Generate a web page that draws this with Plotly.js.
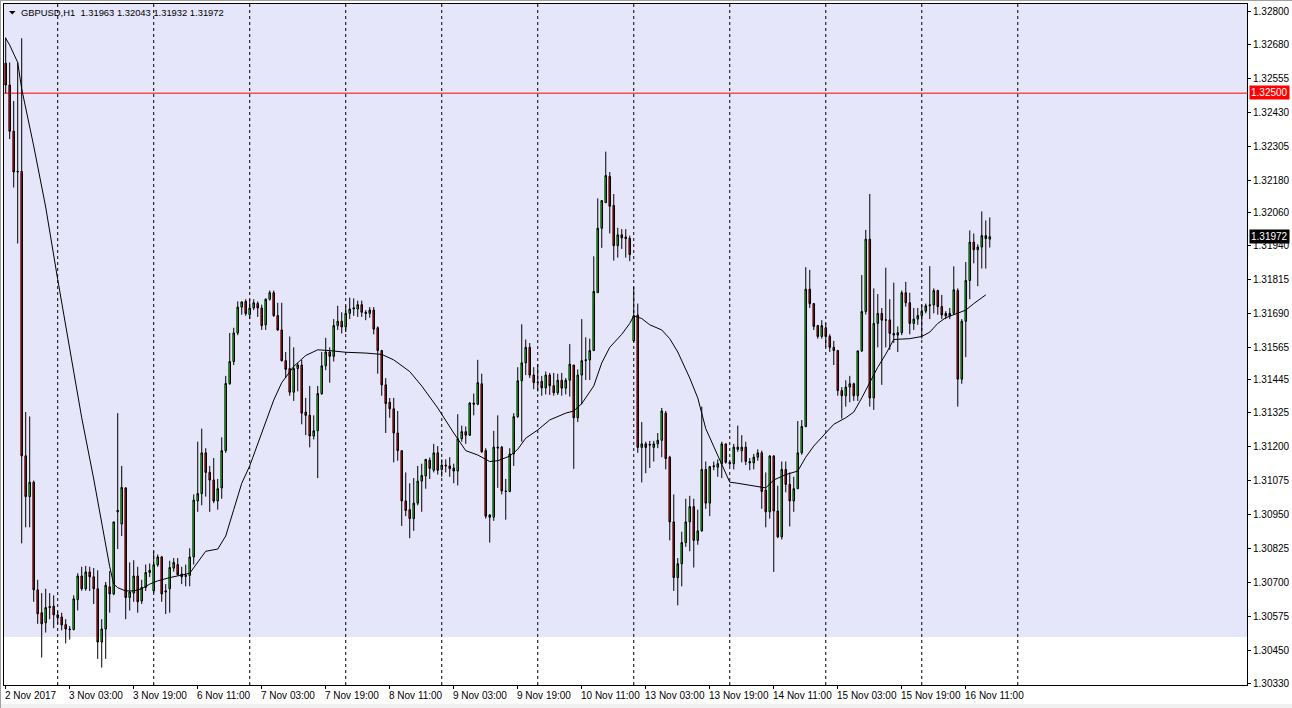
<!DOCTYPE html>
<html>
<head>
<meta charset="utf-8">
<script src="https://cdn.plot.ly/plotly-3.0.1.min.js"></script>
<style>
  html, body { margin: 0; padding: 0; background: #ffffff; }
  #chart { width: 1292px; height: 708px; }
</style>
</head>
<body>
<div id="chart"></div>
<script>
// ---------------- DATA ----------------
const symbol = "GBPUSD,H1";

const open = [
1.32610,1.32530,1.32360,1.32210,1.32212,1.31166,1.31016,1.31069,1.30673,1.30589,
1.30552,1.30608,1.30613,1.30581,1.30573,1.30545,1.30529,1.30527,1.30637,1.30724,
1.30677,1.30739,1.30721,1.30677,1.30481,1.30529,1.30684,1.30658,1.30960,1.30915,
1.31048,1.30645,1.30661,1.30724,1.30632,1.30682,1.30737,1.30669,1.30765,1.30794,
1.30665,1.30677,1.30753,1.30766,1.30731,1.30722,1.30726,1.30794,1.31000,1.31027,
1.31177,1.31105,1.31077,1.31000,1.31048,1.31185,1.31432,1.31513,1.31618,1.31713,
1.31734,1.31685,1.31710,1.31726,1.31710,1.31648,1.31742,1.31766,1.31682,1.31629,
1.31516,1.31487,1.31400,1.31487,1.31500,1.31327,1.31315,1.31239,1.31258,1.31395,
1.31497,1.31548,1.31532,1.31645,1.31661,1.31640,1.31690,1.31706,1.31706,1.31722,
1.31694,1.31690,1.31702,1.31637,1.31553,1.31427,1.31363,1.31339,1.31250,1.31185,
1.31000,1.30968,1.30935,1.30992,1.31073,1.31092,1.31150,1.31113,1.31177,1.31116,
1.31132,1.31129,1.31121,1.31110,1.31229,1.31255,1.31242,1.31360,1.31356,1.31431,
1.31185,1.30948,1.30940,1.31198,1.31198,1.31037,1.31035,1.31173,1.31310,1.31442,
1.31508,1.31565,1.31463,1.31435,1.31440,1.31416,1.31463,1.31424,1.31398,1.31444,
1.31415,1.31444,1.31500,1.31306,1.31463,1.31516,1.31519,1.31553,1.31766,1.32003,
1.32097,1.32194,1.32087,1.31939,1.31979,1.31971,1.31966,1.31589,1.31684,1.31197,
1.31210,1.31205,1.31197,1.31210,1.31223,1.31323,1.31161,1.30923,1.30718,1.30769,
1.30847,1.30923,1.30979,1.30855,1.30890,1.31116,1.30992,1.31126,1.31124,1.31137,
1.31210,1.31142,1.31137,1.31190,1.31185,1.31198,1.31145,1.31140,1.31161,1.31177,
1.31040,1.30960,1.31165,1.30963,1.30868,1.31116,1.31061,1.31000,1.31045,1.31177,
1.31274,1.31779,1.31726,1.31645,1.31605,1.31637,1.31605,1.31565,1.31553,1.31406,
1.31387,1.31419,1.31431,1.31387,1.31552,1.31697,1.31963,1.31379,1.31653,1.31690,
1.31665,1.31666,1.31616,1.31610,1.31619,1.31766,1.31729,1.31653,1.31669,1.31682,
1.31698,1.31718,1.31721,1.31774,1.31715,1.31690,1.31681,1.31690,1.31774,1.31448,
1.31661,1.31811,1.31952,1.31924,1.31934,1.31976,1.31963];

const high = [
1.32705,1.32613,1.32471,1.32613,1.32702,1.31327,1.31311,1.31075,1.30710,1.30661,
1.30677,1.30661,1.30653,1.30595,1.30589,1.30565,1.30540,1.30653,1.30734,1.30758,
1.30761,1.30758,1.30753,1.30745,1.30565,1.30702,1.30742,1.30923,1.31323,1.31129,
1.31050,1.30774,1.30782,1.30758,1.30710,1.30766,1.30770,1.30815,1.30803,1.30798,
1.30694,1.30780,1.30790,1.30790,1.30758,1.30766,1.30826,1.31024,1.31218,1.31266,
1.31194,1.31129,1.31158,1.31081,1.31234,1.31460,1.31618,1.31637,1.31734,1.31734,
1.31742,1.31742,1.31742,1.31734,1.31722,1.31745,1.31774,1.31774,1.31729,1.31729,
1.31548,1.31605,1.31565,1.31508,1.31519,1.31379,1.31423,1.31315,1.31423,1.31548,
1.31600,1.31565,1.31669,1.31718,1.31694,1.31718,1.31748,1.31745,1.31737,1.31737,
1.31702,1.31713,1.31713,1.31642,1.31556,1.31452,1.31379,1.31379,1.31331,1.31185,
1.31105,1.31065,1.31084,1.31129,1.31137,1.31153,1.31160,1.31210,1.31202,1.31153,
1.31153,1.31161,1.31137,1.31319,1.31277,1.31274,1.31363,1.31395,1.31519,1.31468,
1.31194,1.30952,1.31258,1.31315,1.31202,1.31081,1.31194,1.31323,1.31492,1.31650,
1.31594,1.31581,1.31492,1.31503,1.31460,1.31476,1.31471,1.31471,1.31468,1.31471,
1.31452,1.31577,1.31500,1.31484,1.31669,1.31602,1.31597,1.31900,1.32113,1.32105,
1.32285,1.32210,1.32129,1.32005,1.32000,1.32000,1.31976,1.31787,1.31726,1.31290,
1.31218,1.31221,1.31221,1.31250,1.31342,1.31331,1.31166,1.31024,1.30790,1.30887,
1.31008,1.31019,1.31008,1.30968,1.31347,1.31145,1.31129,1.31145,1.31153,1.31218,
1.31210,1.31145,1.31210,1.31277,1.31242,1.31218,1.31158,1.31173,1.31190,1.31185,
1.31105,1.31169,1.31169,1.31056,1.31145,1.31145,1.31105,1.31089,1.31294,1.31298,
1.31860,1.31850,1.31726,1.31648,1.31665,1.31653,1.31613,1.31589,1.31556,1.31419,
1.31444,1.31460,1.31435,1.31552,1.31831,1.31997,1.32129,1.31782,1.31761,1.31710,
1.31858,1.31742,1.31803,1.31642,1.31774,1.31806,1.31766,1.31710,1.31710,1.31722,
1.31726,1.31864,1.31782,1.31777,1.31758,1.31698,1.31710,1.31863,1.31782,1.31669,
1.31879,1.31995,1.31984,1.31944,1.32065,1.32032,1.32043];

const low = [
1.32500,1.32331,1.32153,1.31947,1.30844,1.30903,1.30903,1.30629,1.30548,1.30424,
1.30516,1.30565,1.30532,1.30548,1.30524,1.30476,1.30490,1.30524,1.30597,1.30670,
1.30670,1.30669,1.30621,1.30419,1.30387,1.30419,1.30589,1.30653,1.30823,1.30871,
1.30565,1.30597,1.30629,1.30589,1.30621,1.30669,1.30720,1.30661,1.30758,1.30629,
1.30584,1.30589,1.30740,1.30726,1.30694,1.30686,1.30686,1.30766,1.30960,1.30984,
1.31016,1.30960,1.30992,1.30968,1.31008,1.31177,1.31427,1.31500,1.31610,1.31685,
1.31681,1.31669,1.31702,1.31677,1.31629,1.31629,1.31737,1.31677,1.31626,1.31513,
1.31452,1.31387,1.31368,1.31403,1.31282,1.31242,1.31197,1.31226,1.31084,1.31390,
1.31481,1.31435,1.31513,1.31629,1.31616,1.31621,1.31669,1.31681,1.31677,1.31677,
1.31665,1.31674,1.31613,1.31468,1.31387,1.31250,1.31306,1.31142,1.31148,1.30908,
1.30944,1.30863,1.30890,1.30984,1.30960,1.31045,1.31081,1.31105,1.31097,1.31089,
1.31105,1.31089,1.31065,1.31057,1.31218,1.31210,1.31239,1.31315,1.31352,1.31177,
1.30935,1.30847,1.30927,1.31048,1.31024,1.30931,1.31032,1.31129,1.31306,1.31218,
1.31463,1.31452,1.31411,1.31403,1.31387,1.31392,1.31390,1.31387,1.31390,1.31387,
1.31392,1.31384,1.31118,1.31290,1.31355,1.31445,1.31445,1.31553,1.31766,1.31931,
1.32097,1.31984,1.31884,1.31895,1.31927,1.31895,1.31882,1.31584,1.31177,1.31068,
1.31102,1.31121,1.31145,1.31194,1.31161,1.31116,1.30855,1.30669,1.30616,1.30686,
1.30831,1.30815,1.30755,1.30839,1.30887,1.30971,1.30944,1.31113,1.31089,1.31084,
1.31137,1.31129,1.31116,1.31181,1.31142,1.31132,1.31113,1.31116,1.31148,1.30971,
1.30903,1.30935,1.30739,1.30863,1.30858,1.31032,1.30906,1.30960,1.31045,1.31170,
1.31271,1.31710,1.31629,1.31597,1.31597,1.31565,1.31548,1.31500,1.31387,1.31303,
1.31347,1.31363,1.31368,1.31368,1.31548,1.31686,1.31347,1.31335,1.31565,1.31427,
1.31565,1.31556,1.31581,1.31548,1.31610,1.31715,1.31613,1.31629,1.31648,1.31597,
1.31690,1.31669,1.31690,1.31685,1.31669,1.31669,1.31669,1.31684,1.31347,1.31431,
1.31529,1.31742,1.31874,1.31790,1.31855,1.31855,1.31932];

const close = [
1.32530,1.32360,1.32210,1.32212,1.31166,1.31016,1.31069,1.30673,1.30585,1.30548,
1.30608,1.30611,1.30581,1.30571,1.30544,1.30529,1.30527,1.30640,1.30724,1.30677,
1.30739,1.30721,1.30677,1.30481,1.30529,1.30690,1.30658,1.30923,1.30965,1.31050,
1.30645,1.30665,1.30724,1.30629,1.30682,1.30737,1.30745,1.30765,1.30794,1.30658,
1.30669,1.30755,1.30774,1.30729,1.30721,1.30726,1.30794,1.31003,1.31027,1.31177,
1.31105,1.31077,1.31000,1.31045,1.31185,1.31432,1.31513,1.31618,1.31713,1.31732,
1.31689,1.31710,1.31729,1.31710,1.31645,1.31742,1.31766,1.31682,1.31629,1.31516,
1.31484,1.31400,1.31487,1.31500,1.31323,1.31315,1.31239,1.31258,1.31395,1.31497,
1.31548,1.31532,1.31645,1.31661,1.31640,1.31690,1.31706,1.31710,1.31722,1.31694,
1.31690,1.31702,1.31632,1.31553,1.31427,1.31358,1.31339,1.31250,1.31185,1.31000,
1.30965,1.30935,1.30992,1.31073,1.31094,1.31153,1.31120,1.31177,1.31113,1.31132,
1.31129,1.31119,1.31110,1.31229,1.31255,1.31242,1.31360,1.31356,1.31435,1.31181,
1.30944,1.30940,1.31198,1.31195,1.31037,1.31035,1.31173,1.31310,1.31442,1.31508,
1.31565,1.31463,1.31435,1.31437,1.31416,1.31463,1.31424,1.31398,1.31444,1.31415,
1.31444,1.31503,1.31306,1.31463,1.31516,1.31519,1.31553,1.31771,1.32003,1.32105,
1.32197,1.32084,1.31939,1.31979,1.31968,1.31965,1.31906,1.31681,1.31197,1.31210,
1.31197,1.31208,1.31210,1.31223,1.31331,1.31156,1.30923,1.30718,1.30769,1.30847,
1.30923,1.30979,1.30855,1.30890,1.31116,1.30992,1.31126,1.31129,1.31137,1.31210,
1.31142,1.31137,1.31198,1.31198,1.31198,1.31145,1.31140,1.31161,1.31177,1.31035,
1.30960,1.31165,1.30963,1.30868,1.31116,1.31061,1.31000,1.31045,1.31177,1.31274,
1.31779,1.31726,1.31642,1.31605,1.31645,1.31605,1.31565,1.31553,1.31406,1.31387,
1.31419,1.31431,1.31387,1.31552,1.31697,1.31963,1.31379,1.31653,1.31690,1.31665,
1.31666,1.31616,1.31610,1.31619,1.31766,1.31729,1.31653,1.31669,1.31682,1.31698,
1.31718,1.31721,1.31774,1.31715,1.31684,1.31681,1.31690,1.31777,1.31448,1.31661,
1.31811,1.31952,1.31924,1.31934,1.31976,1.31965,1.31972];

// moving average line (at these bar indices)
const maIdx = [0,1,3,4,7,10,13,16,19,22,24,26,27,28,30,32,34,36,38,41,46,50,53,55,57,59,61,64,67,69,72,75,78,81,85,90,94,97,101,104,108,112,115,118,121,123,126,128,130,133,136,140,142,144,147,149,151,154,156,157,159,161,164,166,168,171,173,175,177,179,181,183,186,189,190,192,195,198,200,202,204,206,207,210,212,214,216,218,220,221,222,226,229,231,233,235,238,240,242,245];
const maVal = [1.32702,1.32677,1.32613,1.32516,1.32306,1.32081,1.31815,1.31556,1.31306,1.31081,1.30919,1.30758,1.30694,1.30681,1.30669,1.30669,1.30677,1.30694,1.30706,1.30718,1.30734,1.30815,1.30823,1.30871,1.30968,1.31065,1.31129,1.31250,1.31371,1.31435,1.31495,1.31535,1.31556,1.31553,1.31547,1.31544,1.31539,1.31519,1.31476,1.31423,1.31342,1.31250,1.31185,1.31169,1.31145,1.31148,1.31165,1.31190,1.31231,1.31261,1.31298,1.31323,1.31331,1.31358,1.31423,1.31508,1.31565,1.31613,1.31653,1.31681,1.31671,1.31648,1.31629,1.31597,1.31548,1.31452,1.31379,1.31266,1.31202,1.31132,1.31069,1.31065,1.31058,1.31052,1.31048,1.31077,1.31097,1.31110,1.31161,1.31202,1.31234,1.31266,1.31282,1.31306,1.31327,1.31379,1.31435,1.31492,1.31540,1.31565,1.31594,1.31597,1.31605,1.31621,1.31653,1.31674,1.31690,1.31702,1.31726,1.31758];

// time-axis labels (bar index -> text)
const timeLabelIdx = [0,16,32,48,64,80,96,112,128,144,160,176,192,208,224,240];
const timeLabelText = ["2 Nov 2017","3 Nov 03:00","3 Nov 19:00","6 Nov 11:00","7 Nov 03:00","7 Nov 19:00","8 Nov 11:00","9 Nov 03:00","9 Nov 19:00","10 Nov 11:00","13 Nov 03:00","13 Nov 19:00","14 Nov 11:00","15 Nov 03:00","15 Nov 19:00","16 Nov 11:00"];

// day separators (bar index of the first bar of each day)
const daySepIdx = [13,37,61,85,109,133,157,181,205,229,253];

// price-axis ticks
const priceTicks = [1.32800,1.32680,1.32555,1.32430,1.32305,1.32180,1.32060,1.31940,1.31815,1.31690,1.31565,1.31445,1.31325,1.31200,1.31075,1.30950,1.30825,1.30700,1.30575,1.30450,1.30330];
const priceTickText = priceTicks.map(v => v.toFixed(5));

// horizontal level and shaded zone
const levelPrice = 1.32500;
const zoneBottom = 1.30500;

// ---------------- CHART ----------------
const W = 1292, H = 708;
const M = {l: 4, r: 45, t: 4, b: 23};
const plotW = W - M.l - M.r, plotH = H - M.t - M.b;
const yRange = [1.30323, 1.32828];
const xRange = [-0.425, 310.3];
const px2paperX = px => (px - M.l) / plotW;
const px2paperY = py => (H - M.b - py) / plotH;

const idx = open.map((_, i) => i);
const last = open.length - 1;

const candle = {
  type: 'candlestick',
  x: idx, open: open, high: high, low: low, close: close,
  increasing: {line: {color: '#000000', width: 1}, fillcolor: '#00FF00'},
  decreasing: {line: {color: '#000000', width: 1}, fillcolor: '#FF0000'},
  whiskerwidth: 0,
  hoverinfo: 'skip'
};

const ma = {
  type: 'scatter', mode: 'lines',
  x: maIdx, y: maVal,
  line: {color: '#000000', width: 1},
  hoverinfo: 'skip'
};

const shapes = [];
// shaded zone
shapes.push({type: 'rect', xref: 'paper', yref: 'y', x0: 0, x1: 1, y0: zoneBottom, y1: yRange[1],
  fillcolor: '#E6E6FA', line: {width: 0}, layer: 'below'});
// day separators
daySepIdx.forEach(i => shapes.push({type: 'line', xref: 'x', yref: 'paper', x0: i, x1: i, y0: 0, y1: 1,
  line: {color: '#000000', width: 1, dash: '3px,3px'}, layer: 'below'}));
// level line
shapes.push({type: 'line', xref: 'paper', yref: 'y', x0: 0, x1: 1, y0: levelPrice, y1: levelPrice,
  line: {color: '#FF0000', width: 1}, layer: 'below'});
// header triangle
shapes.push({type: 'path', xref: 'paper', yref: 'paper',
  path: `M ${px2paperX(9)} ${px2paperY(11)} L ${px2paperX(15.5)} ${px2paperY(11)} L ${px2paperX(12.25)} ${px2paperY(14.5)} Z`,
  fillcolor: '#000000', line: {width: 0}});
// bottom window strip
shapes.push({type: 'rect', xref: 'paper', yref: 'paper', x0: px2paperX(0), x1: px2paperX(W), y0: px2paperY(704), y1: px2paperY(708),
  fillcolor: '#F0F0F0', line: {width: 0}});
// window frame
shapes.push({type: 'line', xref: 'paper', yref: 'paper', x0: px2paperX(0.5), x1: px2paperX(0.5), y0: px2paperY(0), y1: px2paperY(708),
  line: {color: '#A0A0A0', width: 1}});
shapes.push({type: 'line', xref: 'paper', yref: 'paper', x0: px2paperX(0), x1: px2paperX(W), y0: px2paperY(0.5), y1: px2paperY(0.5),
  line: {color: '#A0A0A0', width: 1}});

const font = {family: 'Liberation Sans, Arial, sans-serif', size: 10, color: '#000000'};

const annotations = [];
timeLabelIdx.forEach((i, k) => annotations.push({
  x: i, xref: 'x', xanchor: 'left', xshift: -3,
  y: 0, yref: 'paper', yanchor: 'top', yshift: -3,
  text: timeLabelText[k], showarrow: false, font: font
}));
// header
annotations.push({
  x: 0, xref: 'paper', xanchor: 'left', xshift: 15,
  y: 1, yref: 'paper', yanchor: 'top', yshift: -1,
  text: `${symbol}  ${open[last].toFixed(5)} ${high[last].toFixed(5)} ${low[last].toFixed(5)} ${close[last].toFixed(5)}`,
  showarrow: false, font: {family: font.family, size: 9.4, color: '#000000'}
});
// level price label
annotations.push({
  x: 1, xref: 'paper', xanchor: 'left', xshift: 2,
  y: levelPrice, yref: 'y', yanchor: 'middle', yshift: 1,
  text: levelPrice.toFixed(5), showarrow: false,
  font: {family: font.family, size: 10, color: '#FFFFFF'}, bgcolor: '#FF0000', borderpad: 1
});
// current price label
annotations.push({
  x: 1, xref: 'paper', xanchor: 'left', xshift: 2,
  y: close[last], yref: 'y', yanchor: 'middle',
  text: close[last].toFixed(5), showarrow: false,
  font: {family: font.family, size: 10, color: '#FFFFFF'}, bgcolor: '#000000', borderpad: 1
});

const layout = {
  width: W, height: H,
  margin: M,
  paper_bgcolor: '#FFFFFF', plot_bgcolor: '#FFFFFF',
  showlegend: false,
  boxgap: 0.45,
  font: font,
  xaxis: {
    range: xRange, showgrid: false, zeroline: false,
    showline: true, mirror: true, linecolor: '#000000', linewidth: 1,
    tickvals: timeLabelIdx, ticktext: timeLabelIdx.map(() => ''),
    ticks: 'outside', ticklen: 3, tickcolor: '#000000', tickwidth: 1,
    rangeslider: {visible: false}, fixedrange: true
  },
  yaxis: {
    range: yRange, side: 'right', showgrid: false, zeroline: false,
    showline: true, mirror: true, linecolor: '#000000', linewidth: 1,
    tickvals: priceTicks, ticktext: priceTickText,
    ticks: 'outside', ticklen: 3, tickcolor: '#000000', tickwidth: 1,
    tickfont: font, fixedrange: true
  },
  shapes: shapes,
  annotations: annotations
};

Plotly.newPlot('chart', [candle, ma], layout, {displayModeBar: false, staticPlot: true});
</script>
</body>
</html>
